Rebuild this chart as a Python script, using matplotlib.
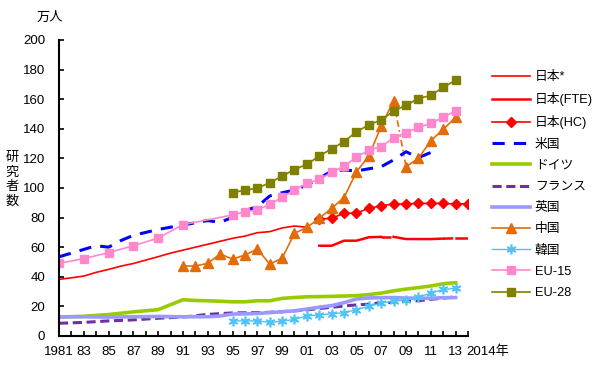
import numpy as np
import matplotlib
matplotlib.use("Agg")
import matplotlib.pyplot as plt

plt.rcParams['font.family'] = ['Liberation Sans', 'Noto Sans CJK JP', 'DejaVu Sans']
plt.rcParams['font.size'] = 9

# Data (万人)
jp_star_years = list(range(1981, 2002))
jp_star = [38.3, 39.3, 40.5, 43, 45, 47.2, 49, 51.3, 53.6, 56, 58, 60, 62, 64, 66, 67.5,
           69.8, 70.5, 73, 74.3, 73.5]

jp_fte_years = list(range(2002, 2015))
jp_fte = [61, 61, 64.4, 64.4, 66.7, 67, 67, 65.5, 65.5, 65.5, 65.8, 66, 66]
jp_fte_breaks = [2007, 2012]   # segment starting in these years is drawn dash-dot

jp_hc_years = list(range(2002, 2015))
jp_hc = [79, 79.5, 83, 83, 86.3, 88, 89.2, 89.2, 89.6, 89.6, 89.6, 89.2, 89.4]

us_years = list(range(1981, 2012))
us = [53.5, 56, 58.5, 61, 60, 64.5, 68, 70, 72, 73.5, 75, 76.5, 78, 76.8, 80.2, 84.7,
      87.4, 94.6, 96.8, 98.6, 102, 106.5, 111.5, 112.2, 111.5, 113, 114.4, 119, 124.5,
      120.5, 124]

de_years = [1981, 1983, 1985, 1987, 1989] + list(range(1991, 2014))
de = [12.8, 13.3, 14.5, 16.3, 17.8, 24.5, 24, 23.8, 23.5, 23.1, 23.1, 23.8, 23.8, 25.4,
      26, 26.5, 26.6, 26.8, 27, 27.3, 28, 29, 30.5, 31.7, 32.7, 33.8, 35.3, 36]

fr_years = [1981, 1983, 1985, 1987, 1989, 1991, 1993] + list(range(1995, 2014))
fr = [8.6, 9.2, 10.2, 10.9, 12, 12.8, 14.6, 15.6, 15.7, 15.8, 16, 16.4, 17, 17.6, 18.6,
      19.4, 20.3, 21, 21.5, 22.5, 22.7, 23.6, 23.8, 24.8, 25.6, 26.4]

uk_years = [1981, 1983, 1985, 1987, 1989, 1991, 1993] + list(range(1994, 2014))
uk = [13, 13, 12.8, 13, 13.2, 13, 13, 13.5, 14.8, 15, 15.2, 15.8, 16.4, 17, 18.2, 19.5,
      20.5, 22.5, 25, 25.7, 25.9, 26, 25.6, 25.6, 25.5, 25.9, 26]

cn_years = list(range(1991, 2014))
cn = [47.3, 47.3, 49.1, 55.4, 52, 54.7, 58.8, 48.6, 52.5, 69.4, 73.4, 79.5, 86.3, 93.5,
      111, 121.6, 141.9, 159, 114.4, 120, 132, 139.6, 147.7]
cn_breaks = [2008]

kr_years = list(range(1995, 2014))
kr = [10.2, 10.2, 10.2, 9.2, 10, 11.2, 13.7, 14.1, 15.2, 15.6, 17.9, 20, 22.2, 23.6,
      24.4, 26.4, 28.9, 31.5, 32.2]

eu15_years = [1981, 1983, 1985, 1987, 1989, 1991] + list(range(1995, 2014))
eu15 = [49.1, 52.3, 56.3, 61, 66.2, 75.2, 81.8, 84, 85.1, 89, 93.7, 98.6, 103.1, 105.9,
        110.5, 114.9, 120.7, 125.7, 127.9, 134, 137.4, 141, 143.7, 147.8, 152]

eu28_years = list(range(1995, 2014))
eu28 = [96.8, 98.6, 99.8, 103.6, 108, 112.5, 116, 121.6, 126.5, 131.3, 138, 142.6, 146,
        152, 155.9, 160.4, 162.6, 168, 172.8]

tick_years = list(range(1981, 2015))
tick_labels = ["1981" if y == 1981 else ("%02d" % (y % 100) if y % 2 == 1 and y < 2014 else "")
               for y in tick_years]


def plot_broken(ax, years, vals, breaks, label, **kw):
    # Solid pieces between the breaks, dash-dot over each break segment
    years = list(years)
    cuts = [years.index(b) for b in breaks]
    starts = [0] + [c + 1 for c in cuts]
    ends = [c + 1 for c in cuts] + [len(years)]
    for i, (s, e) in enumerate(zip(starts, ends)):
        ax.plot(years[s:e], vals[s:e], label=label if i == 0 else None, **kw)
    dkw = dict(kw)
    dkw.pop('marker', None)
    dkw.pop('markersize', None)
    for c in cuts:
        ax.plot(years[c:c + 2], vals[c:c + 2], **dict(dkw, linestyle=(0, (4, 2, 1, 2, 1, 2))))


fig = plt.figure(figsize=(6, 3.72), dpi=100)
ax = fig.add_axes([59 / 600, 1 - 336 / 372, 409 / 600, 296 / 372])

ax.plot(jp_star_years, jp_star, color='#FF0000', lw=1.2, label='日本*')
plot_broken(ax, jp_fte_years, jp_fte, jp_fte_breaks, '日本(FTE)', color='#FF0000', lw=1.8)
ax.plot(jp_hc_years, jp_hc, color='#FF0000', lw=1.2, marker='D', ms=5.5, label='日本(HC)')
ax.plot(us_years, us, color='#0000FF', lw=2.2, dashes=(4, 3), label='米国')
ax.plot(de_years, de, color='#99CC00', lw=2.6, label='ドイツ')
ax.plot(fr_years, fr, color='#7030A0', lw=2.2, dashes=(3, 1.5), label='フランス')
ax.plot(uk_years, uk, color='#9999FF', lw=2.6, label='英国')
plot_broken(ax, cn_years, cn, cn_breaks, '中国', color='#E36C0A', lw=1.2, marker='^', ms=7)
ax.plot(kr_years, kr, color='#4FC3F7', lw=1.0, marker=(6, 2, 0), ms=7, mew=1.2, label='韓国')
ax.plot(eu15_years, eu15, color='#FF88CC', lw=1.2, marker='s', ms=5.5, label='EU-15')
ax.plot(eu28_years, eu28, color='#808000', lw=1.2, marker='s', ms=5.5, label='EU-28')

ax.set_xlim(1981, 2014)
ax.set_ylim(0, 200)
ax.set_yticks(range(0, 201, 20))
ax.set_xticks(tick_years)
ax.set_xticklabels(tick_labels)
ax.tick_params(direction='in', length=3.5, width=1.2)
ax.tick_params(axis='x', pad=7)
ax.tick_params(axis='y', pad=10)
ax.spines[['right', 'top']].set_visible(False)
ax.spines[['left', 'bottom']].set_linewidth(1.5)
for t in ax.get_xticklabels() + ax.get_yticklabels():
    t.set_fontsize(9.5)
ax.text(2013.85, -6.5, '2014年', ha='left', va='top', fontsize=9.5)

fig.text(50 / 600, 1 - 18 / 372, '万人', ha='center', va='center', fontsize=9.5)
fig.text(12 / 600, 1 - 180 / 372, '研\n究\n者\n数', ha='center', va='center',
         fontsize=9.5, linespacing=1.3)

fig.legend(loc='upper left', bbox_to_anchor=(492 / 600, 1 - 71 / 372), frameon=False,
           borderpad=0, borderaxespad=0, handlelength=3.0, handletextpad=0.35,
           labelspacing=0.72, fontsize=9.2)

fig.savefig('out.png', dpi=100)
plt.close()
